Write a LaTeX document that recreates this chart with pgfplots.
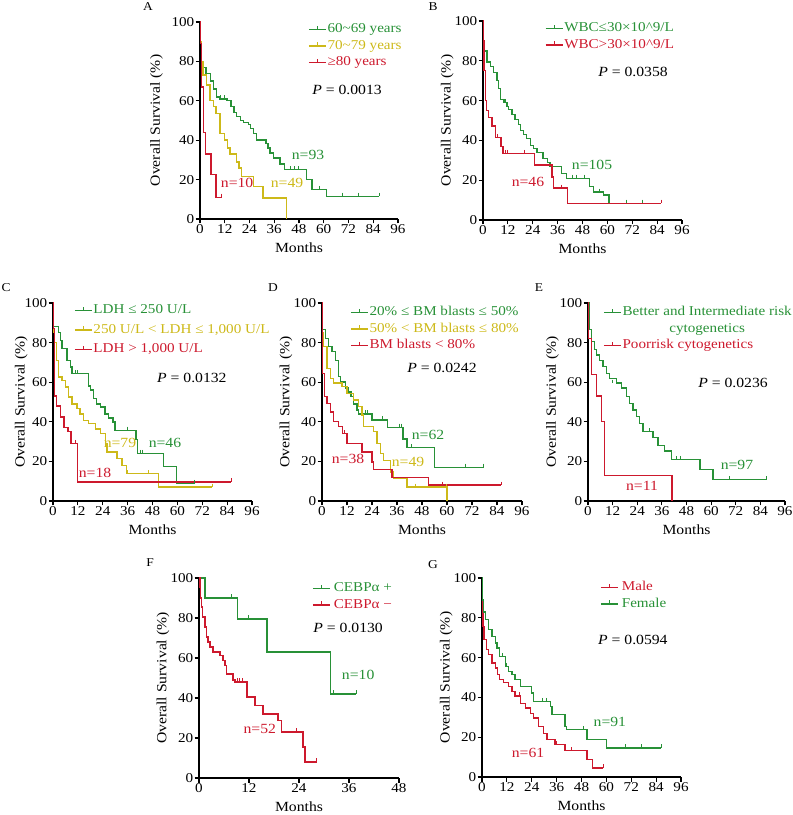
\documentclass[border=0pt]{standalone}
\usepackage{fontspec}
\setmainfont{Liberation Serif}[FakeStretch=1.12]
\usepackage{pgfplots}
\pgfplotsset{compat=1.18}
\usepackage{calc}
\definecolor{kgreen}{RGB}{40,145,55}
\definecolor{kyellow}{RGB}{205,185,25}
\definecolor{kred}{RGB}{205,25,45}
\newcommand\tickfont{\fontsize{13.5}{13.5}\selectfont}
\newcommand\labfont{\fontsize{14}{14}\selectfont}
\newcommand\legfont{\fontsize{13.5}{15}\selectfont}
\newcommand\txtfont{\fontsize{14}{15}\selectfont}
\newcommand\legimg[1]{\addlegendimage{legend image code/.code={\draw[#1, line width=1.4pt] (0pt,0pt) -- (17pt,0pt); \draw[#1, line width=1pt] (8.5pt,0pt) -- (8.5pt,3.5pt);}}}
\pgfplotsset{
  km/.style={
    scale only axis, width=199pt, height=198pt,
    anchor=south west,
    axis x line*=bottom, axis y line*=left,
    xmin=0, xmax=96, ymin=0, ymax=100,
    xtick={0,12,...,96}, ytick={0,20,...,100},
    tick align=outside, major tick length=4.5pt,
    axis line style={line width=1.2pt, black},
    every tick/.style={black, line width=1.2pt},
    /pgf/number format/assume math mode=true,
    ticklabel style={font=\tickfont, inner sep=1pt},
    xlabel={Months}, ylabel={Overall Survival (\%)},
    label style={font=\labfont},
    xlabel style={at={(axis description cs:0.5,-0.146)}, anchor=center},
    ylabel style={at={(axis description cs:-0.18,0.5)}, anchor=center},
    legend cell align=left,
    legend style={draw=none, fill=none, anchor=north west, font=\legfont, inner sep=0pt, row sep=2pt, nodes={inner sep=1pt, text height=9.5pt, text depth=3pt}},
    clip=false,
  },
  kmline/.style={const plot, line width=1.4pt, mark=none, forget plot, color=#1},
  cens/.style={only marks, mark=|, mark size=1.8pt, line width=1pt, forget plot, mark options={yshift=1.8pt}, color=#1},
}
\begin{document}
\begin{tikzpicture}
\useasboundingbox (0pt,0pt) rectangle (793pt,815pt);
\node[font=\fontsize{12}{12}\selectfont] at (148pt,808pt) {A};
\node[font=\fontsize{12}{12}\selectfont] at (433pt,808pt) {B};
\node[font=\fontsize{12}{12}\selectfont] at (6pt,527pt) {C};
\node[font=\fontsize{12}{12}\selectfont] at (273pt,527pt) {D};
\node[font=\fontsize{12}{12}\selectfont] at (539pt,527pt) {E};
\node[font=\fontsize{12}{12}\selectfont] at (150pt,252pt) {F};
\node[font=\fontsize{12}{12}\selectfont] at (433pt,250pt) {G};

% ---------------- A
\begin{axis}[km, at={(200pt,596pt)}, width=198pt, height=197pt,
  ylabel style={at={(axis description cs:-0.22,0.5)}},
  legend style={at={(0.545,1.0)}}]
\legimg{kgreen}\addlegendentry{\textcolor{kgreen}{60\textasciitilde69 years}}
\legimg{kyellow}\addlegendentry{\textcolor{kyellow}{70\textasciitilde79 years}}
\legimg{kred}\addlegendentry{\textcolor{kred}{≥80 years}}
\addplot[kmline=kgreen] coordinates {(0,100) (0.3,90) (0.8,80) (1.6,77) (3,74) (5,70) (6.5,66) (8,62) (9.7,61) (13,60) (15,57) (16.5,54) (17.7,52) (19.5,50) (21,49) (23.4,48) (24.5,46) (25.8,43.5) (27.4,40) (32,38.4) (33,36) (34,33.4) (35.5,31) (38.7,28) (41,25) (51.6,20) (54.4,15) (61.3,11.5) (86.8,11.5)};
\addplot[kmline=kyellow] coordinates {(0,100) (0.3,90) (0.8,80) (1.5,73) (3.2,68) (4.8,60) (6.5,57) (7.7,53.6) (9.7,43.5) (12,40) (13.2,36) (14.5,33) (17.7,29) (19,25.8) (20,21.6) (25.8,16.5) (30.6,10.6) (42,0)};
\addplot[kmline=kred] coordinates {(0,100) (0.3,89) (0.8,67) (1.6,44) (2.7,33) (5.3,22.7) (7.7,11) (10.5,11)};
\addplot[cens=kgreen] coordinates {(10,61) (12,61) (44,25) (46,25) (48,25) (58,15) (69,11.5) (77,11.5) (86.8,11.5)};
\addplot[cens=kred] coordinates {(10.5,11)};
\node[text=kgreen, font=\txtfont] at (axis cs:52.4,32.5) {n=93};
\node[text=kyellow, font=\txtfont] at (axis cs:42.2,18.3) {n=49};
\node[text=kred, font=\txtfont] at (axis cs:18,18.3) {n=10};
\node[font=\txtfont] at (axis cs:71.3,65.5) {\textit{P} = 0.0013};
\end{axis}

% ---------------- B
\begin{axis}[km, at={(483pt,595pt)}, width=199pt, height=199pt,
  legend style={at={(0.31,1.0)}}]
\legimg{kgreen}\addlegendentry{\textcolor{kgreen}{WBC≤30×10\textasciicircum9/L}}
\legimg{kred}\addlegendentry{\textcolor{kred}{WBC>30×10\textasciicircum9/L}}
\addplot[kmline=kgreen] coordinates {(0,100) (0.3,90) (0.6,85) (1.9,79.4) (3.5,77) (5.1,74) (6.7,70) (7.5,66) (8.3,60.7) (10.7,59) (11.5,57) (12.3,55.5) (14,53) (15.5,50.5) (17,48) (18,45) (19.5,43) (21,41) (22.8,37.3) (24.5,36) (26,34) (29,31) (31,29) (32.4,26.8) (38,23.4) (40.4,21) (51.3,16.7) (53.2,14) (58,12.5) (60.7,8.4) (86,8.4)};
\addplot[kmline=kred] coordinates {(0,100) (0.2,90) (0.4,75) (1.1,60) (1.8,55) (2.7,51.5) (4.3,47.3) (5.9,41.5) (8.7,37) (9.6,33.4) (24.8,27.6) (33.2,21.7) (34,16) (40.7,8.4) (86,8.4)};
\addplot[cens=kgreen] coordinates {(10,59) (43,21) (45,21) (49,21) (56,14) (69,8.4) (77,8.4)};
\addplot[cens=kred] coordinates {(7,41.5) (11,33.4) (12,33.4) (20,33.4) (38,16) (86,8.4)};
\node[text=kgreen, font=\txtfont] at (axis cs:52.6,27.6) {n=105};
\node[text=kred, font=\txtfont] at (axis cs:21.7,19.1) {n=46};
\node[font=\txtfont] at (axis cs:72.4,74.4) {\textit{P} = 0.0358};
\end{axis}

% ---------------- C
\begin{axis}[km, at={(53pt,314pt)}, width=199pt, height=198pt,
  ylabel style={at={(axis description cs:-0.16,0.5)}},
  legend style={at={(0.105,1.0)}, row sep=5pt}]
\legimg{kgreen}\addlegendentry{\textcolor{kgreen}{LDH ≤ 250 U/L}}
\legimg{kyellow}\addlegendentry{\textcolor{kyellow}{250 U/L < LDH ≤ 1,000 U/L}}
\legimg{kred}\addlegendentry{\textcolor{kred}{LDH > 1,000 U/L}}
\addplot[kmline=kgreen] coordinates {(0,100) (0.3,88) (2.7,85) (3.5,81) (4.3,77) (6.7,71) (8.3,67.7) (9.1,64.3) (17.1,58) (18,56) (19.6,51.7) (21,49) (22.8,47.4) (25,44) (26.8,42) (29,39.9) (30,35.7) (40,31) (40.8,24) (53.2,17.5) (59.6,8.8) (68.4,8.8)};
\addplot[kmline=kyellow] coordinates {(0,100) (0.3,85) (0.6,80) (1.6,71) (2.7,62.6) (4.3,61) (5.9,57.6) (7.5,52.5) (9.1,49) (11.5,46.6) (13.1,44) (14.7,40.7) (17.1,39) (20.4,36.4) (22.8,34) (25.2,29) (26,24.7) (30.8,21.5) (33.2,18) (35.6,13.8) (50.8,7) (76.8,7)};
\addplot[kmline=kred] coordinates {(0,100) (0.2,87) (0.6,53) (1.6,48) (3.5,42.4) (5.4,37) (7.2,35) (8.7,29) (11.9,9.6) (86,9.6)};
\addplot[cens=kgreen] coordinates {(11,64.3) (12,64.3) (36,35.7) (42,24) (43,24) (68.4,8.8)};
\addplot[cens=kyellow] coordinates {(36,13.8) (46,13.8) (76.8,7)};
\addplot[cens=kred] coordinates {(11,29) (86,9.6)};
\node[text=kyellow, font=\txtfont] at (axis cs:32.3,29.3) {n=79};
\node[text=kgreen, font=\txtfont] at (axis cs:54,29.3) {n=46};
\node[text=kred, font=\txtfont] at (axis cs:20.3,14.1) {n=18};
\node[font=\txtfont] at (axis cs:67,62.1) {\textit{P} = 0.0132};
\end{axis}

% ---------------- D
\begin{axis}[km, at={(322pt,314pt)}, width=200pt, height=198pt,
  legend style={at={(0.14,0.99)}}]
\legimg{kgreen}\addlegendentry{\textcolor{kgreen}{20\% ≤ BM blasts ≤ 50\%}}
\legimg{kyellow}\addlegendentry{\textcolor{kyellow}{50\% < BM blasts ≤ 80\%}}
\legimg{kred}\addlegendentry{\textcolor{kred}{BM blasts < 80\%}}
\addplot[kmline=kgreen] coordinates {(0,100) (0.3,86.5) (1.6,82) (3.2,78) (4.8,75.5) (6.4,71) (8,62.8) (8.8,60) (11.2,57) (12.5,55) (14,52.7) (15.2,49) (16.8,46) (17.6,44) (24,41) (31.5,37.2) (38.9,31.4) (40.8,27) (53.9,17) (77.6,17)};
\addplot[kmline=kyellow] coordinates {(0,100) (0.3,85) (0.8,78) (2.4,67) (4,62) (5.6,59.5) (9.6,57.8) (12,54.4) (15.2,51) (17.6,47.6) (19.2,43.4) (20,37.5) (24.8,35) (26.4,29) (28,24) (29.6,20.6) (32.8,14.7) (34.4,11.3) (40.8,7) (60,0)};
\addplot[kmline=kred] coordinates {(0,100) (0.3,64.5) (1.3,52.7) (2.4,49.3) (4,45) (5.6,40) (8,37.5) (9.9,34) (12,29) (19.2,24.7) (24,19.6) (24.8,16) (33.6,12) (51.2,8) (86,8)};
\addplot[cens=kgreen] coordinates {(21,44) (22,44) (29,41) (37,37.2) (38,37.2) (41,27) (43,27) (69,17) (77.6,17)};
\addplot[cens=kyellow] coordinates {(45,7) (60,7)};
\addplot[cens=kred] coordinates {(11,34) (58,8) (86,8)};
\node[text=kgreen, font=\txtfont] at (axis cs:50.9,33.3) {n=62};
\node[text=kyellow, font=\txtfont] at (axis cs:41.3,19.7) {n=49};
\node[text=kred, font=\txtfont] at (axis cs:12.5,21.2) {n=38};
\node[font=\txtfont] at (axis cs:57.6,67.2) {\textit{P} = 0.0242};
\end{axis}

% ---------------- E
\begin{axis}[km, at={(588pt,314pt)}, width=197pt, height=198pt,
  legend style={at={(0.076,0.99)}}]
\legimg{kgreen}\addlegendentry{\textcolor{kgreen}{Better and Intermediate risk}}
\addlegendimage{empty legend}
\addlegendentry{\textcolor{kgreen}{\makebox[\widthof{Better and Intermediate risk}][c]{cytogenetics}}}
\legimg{kred}\addlegendentry{\textcolor{kred}{Poorrisk cytogenetics}}
\addplot[kmline=kgreen] coordinates {(0,100) (0.5,86.5) (1.6,80.6) (3.3,76.4) (4,73.8) (5.7,71) (7.3,68) (9,64.5) (10.6,62) (13.8,59.5) (16.3,57) (18.7,52.7) (20.3,49.3) (22,46) (23.6,42.6) (25.2,39) (26.8,35) (31.7,32) (34.1,28) (37.4,25.3) (40.7,21) (54.5,16) (61,10.8) (87,10.8)};
\addplot[kmline=kred] coordinates {(0,100) (0.3,82) (1.6,64) (4.1,53) (6.5,40) (8.1,13) (41,0)};
\addplot[cens=kgreen] coordinates {(12,59.5) (30,35) (43,21) (45,21) (69,10.8) (87,10.8)};
\node[text=kgreen, font=\txtfont] at (axis cs:72.6,18.2) {n=97};
\node[text=kred, font=\txtfont] at (axis cs:26.3,7.6) {n=11};
\node[font=\txtfont] at (axis cs:70.7,59.6) {\textit{P} = 0.0236};
\end{axis}

% ---------------- F
\begin{axis}[km, at={(199pt,37pt)}, width=200pt, height=200pt,
  xmax=48, xtick={0,12,...,48},
  legend style={at={(0.565,0.985)}}]
\legimg{kgreen}\addlegendentry{\textcolor{kgreen}{\,CEBPα +}}
\legimg{kred}\addlegendentry{\textcolor{kred}{\,CEBPα −}}
\addplot[kmline=kgreen] coordinates {(0,100) (1.4,90) (9.2,79.5) (16.3,63) (31.6,42) (37.8,42)};
\addplot[kmline=kred] coordinates {(0,100) (0.2,95.5) (0.4,90) (0.6,85.5) (0.9,80.5) (1.4,75.5) (1.8,70.5) (2.2,68) (2.6,65.5) (3.4,63) (5,61.3) (5.8,58.8) (6.2,56.3) (6.6,52) (8.2,49) (8.6,48) (11.5,40.5) (13.4,36.3) (15.4,32) (19,28.8) (19.8,23) (25,15.5) (25.4,8) (28.3,8)};
\addplot[cens=kgreen] coordinates {(7.8,90) (12,79.5) (32.2,42) (37.8,42)};
\addplot[cens=kred] coordinates {(5.9,58.8) (9.3,48) (9.8,48) (10.4,48) (19.2,28.8) (23.3,23) (28.3,8)};
\node[text=kgreen, font=\txtfont] at (axis cs:38.2,51.5) {n=10};
\node[text=kred, font=\txtfont] at (axis cs:14.6,24.5) {n=52};
\node[font=\txtfont] at (axis cs:35.8,75) {\textit{P} = 0.0130};
\end{axis}

% ---------------- G
\begin{axis}[km, at={(482pt,38pt)}, width=199pt, height=199pt,
  legend style={at={(0.593,0.99)}}]
\legimg{kred}\addlegendentry{\textcolor{kred}{\,Male}}
\legimg{kgreen}\addlegendentry{\textcolor{kgreen}{\,Female}}
\addplot[kmline=kred] coordinates {(0,100) (0.3,89) (0.5,75.7) (1,69) (2.1,64) (3.2,61.5) (4.8,57.3) (6.4,54.8) (7.5,51.4) (8.5,49) (10.4,47.4) (12.8,45.6) (14.4,43) (16,40.7) (18.5,37) (20.9,34.7) (23.3,32) (24.9,29.6) (27.3,25.5) (29.7,22) (31.3,18.8) (35.3,16.2) (40.1,13.2) (50.6,8.7) (53.4,4.5) (58.6,4.5)};
\addplot[kmline=kgreen] coordinates {(0,100) (0.3,89) (0.6,83) (1.6,79) (3.2,74) (4.8,70.7) (6.4,67.3) (7.2,64.8) (8.5,60.6) (11.2,55.6) (12.8,53) (14.4,51.4) (16,49) (18.5,45.6) (24,42.2) (24.9,38) (32.9,35.5) (33.7,31.3) (40.1,25.5) (40.9,23.8) (50.6,18.8) (60.2,14.6) (86.4,14.6)};
\addplot[cens=kred] coordinates {(18,40.7) (36,16.2) (43,13.2) (58.6,4.5)};
\addplot[cens=kgreen] coordinates {(10,60.6) (12,55.6) (29,38) (31,38) (49,23.8) (69,14.6) (77,14.6) (86.4,14.6)};
\node[text=kgreen, font=\txtfont] at (axis cs:61.7,27.6) {n=91};
\node[text=kred, font=\txtfont] at (axis cs:22.2,12.1) {n=61};
\node[font=\txtfont] at (axis cs:72.8,68.8) {\textit{P} = 0.0594};
\end{axis}
\end{tikzpicture}
\end{document}
